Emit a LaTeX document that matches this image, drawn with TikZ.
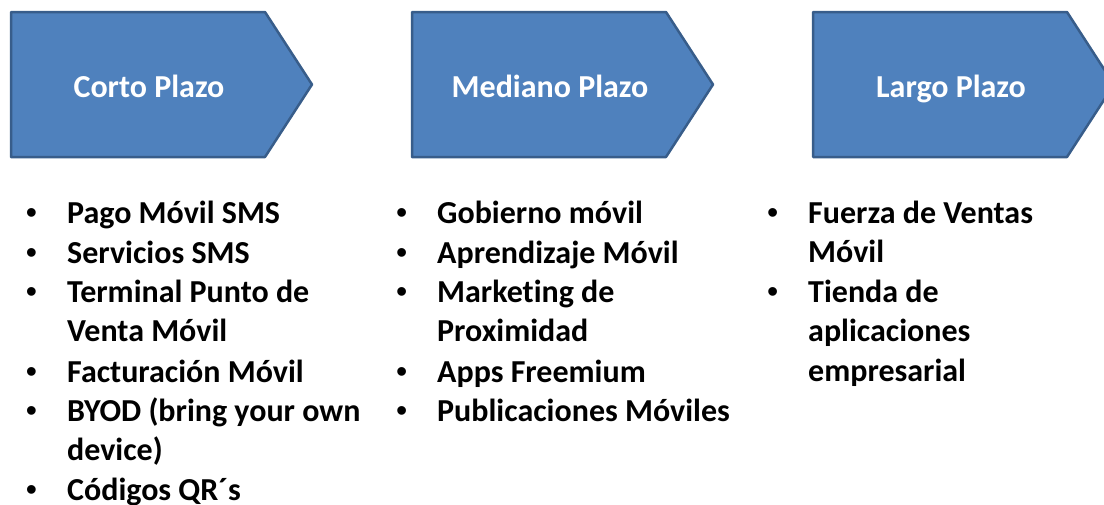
\documentclass[tikz,border=0pt]{standalone}
\usepackage{fontspec}
\setmainfont[Ligatures={NoCommon}]{Carlito}
\newfontfamily\vinetafont{Liberation Sans}
\definecolor{plazofill}{HTML}{4F81BD}
\definecolor{plazoline}{HTML}{385D8A}
\newcommand\lineas[1]{\begin{tabular}[t]{@{}l@{}}#1\end{tabular}}

\begin{document}
\begin{tikzpicture}[x=1pt,y=-1pt,
  plazo/.style={draw=plazoline,fill=plazofill,line width=2.5pt,line join=round},
  titulo/.style={anchor=base,text=white,inner sep=0pt,font=\fontsize{32}{38}\selectfont\bfseries},
  punto/.style={anchor=base west,inner sep=0pt,
    font=\fontsize{32}{39.6}\selectfont\bfseries,
    execute at begin node={\llap{{\vinetafont\mdseries •}\hspace{30pt}}}},
  ]
\useasboundingbox (0,0) rectangle (1104,504);
\clip (0,0) rectangle (1104,504);
% flechas de plazo
\foreach \x/\name/\label in {11/corto/Corto Plazo,412/mediano/Mediano Plazo,813/largo/Largo Plazo} {
  \draw[plazo] (\x,12) -- ++(254,0) -- ++(47,72.5) -- ++(-47,72.5) -- ++(-254,0) -- cycle;
  \node[titulo] (\name) at (\x+138,97) {\label};
}
% corto plazo
\node[punto] (c1) at (67,223) {Pago Móvil SMS};
\node[punto] (c2) at (67,263) {Servicios SMS};
\node[punto] (c3) at (67,302) {\lineas{Terminal Punto de\\Venta Móvil}};
\node[punto] (c4) at (67,382) {Facturación Móvil};
\node[punto] (c5) at (67,421) {\lineas{BYOD (bring your own\\device)}};
\node[punto] (c6) at (67,500) {Códigos QR´s};
% mediano plazo
\node[punto] (m1) at (437,223) {Gobierno móvil};
\node[punto] (m2) at (437,263) {Aprendizaje Móvil};
\node[punto] (m3) at (437,302) {\lineas{Marketing de\\Proximidad}};
\node[punto] (m4) at (437,382) {Apps Freemium};
\node[punto] (m5) at (437,421) {Publicaciones Móviles};
% largo plazo
\node[punto] (l1) at (808,223) {\lineas{Fuerza de Ventas\\Móvil}};
\node[punto] (l2) at (808,302) {\lineas{Tienda de\\aplicaciones\\empresarial}};
\end{tikzpicture}
\end{document}
